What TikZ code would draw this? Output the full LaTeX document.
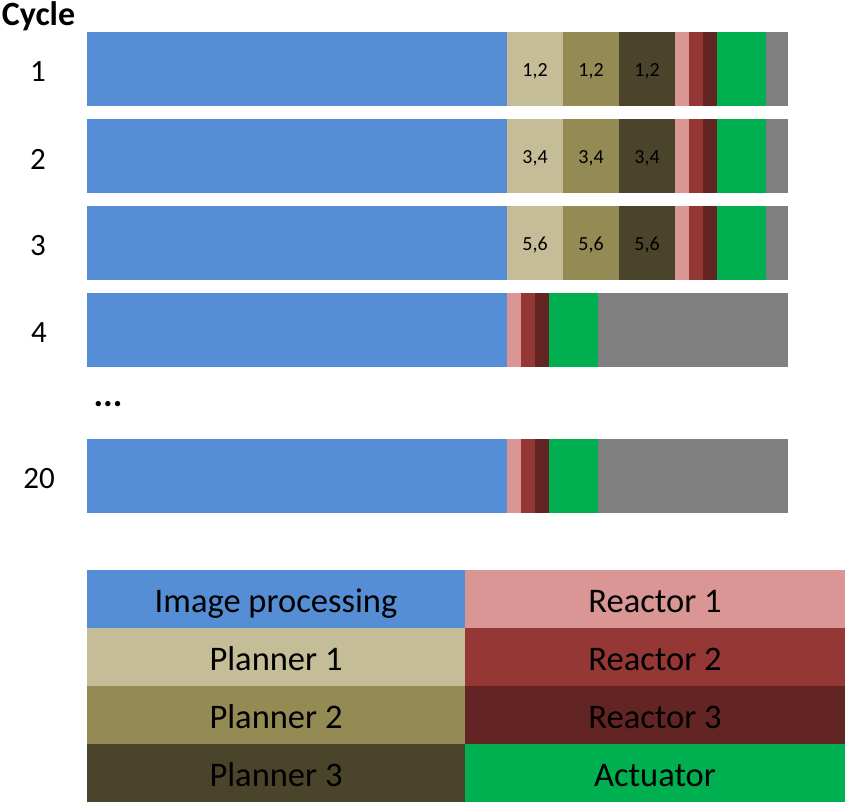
\documentclass[tikz,border=0pt]{standalone}
\usepackage{fontspec}
\setmainfont{Carlito}
\usetikzlibrary{positioning}

\definecolor{imgblue}{RGB}{85,142,213}
\definecolor{planA}{RGB}{196,189,151}
\definecolor{planB}{RGB}{148,138,84}
\definecolor{planC}{RGB}{74,69,42}
\definecolor{reactA}{RGB}{217,150,148}
\definecolor{reactB}{RGB}{149,55,53}
\definecolor{reactC}{RGB}{99,37,35}
\definecolor{actgreen}{RGB}{0,176,80}
\definecolor{idlegray}{RGB}{128,128,128}

\begin{document}
\begin{tikzpicture}[
        x=1pt, y=-1pt,
        node distance=0pt,
        seg/.style={rectangle, anchor=north west, inner sep=0pt, outer sep=0pt,
            minimum height=74pt, text height=14pt, text depth=0pt,
            font=\fontsize{20}{20}\selectfont},
        key/.style={rectangle, anchor=north west, inner sep=0pt, outer sep=0pt,
            minimum height=58pt, text height=26pt, text depth=0pt,
            font=\fontsize{34.5}{34.5}\selectfont},
        cyc/.style={font=\fontsize{31}{31}\selectfont}
    ]
    \useasboundingbox (0,0) rectangle (845,804);

    \node [font=\fontsize{34}{34}\selectfont\bfseries] (cyc) at (38.5,16) {Cycle};

    % cycles with planners
    \foreach \n/\top/\pr in {1/32/{1,2}, 2/119/{3,4}, 3/206/{5,6}} {
        \node [cyc] (lab\n) at (38,\top+40) {\n};
        \node [seg, fill=imgblue, minimum width=420pt] (ip\n) at (87,\top) {};
        \node [seg, fill=planA, minimum width=56pt, right=of ip\n] (pa\n) {\pr};
        \node [seg, fill=planB, minimum width=56pt, right=of pa\n] (pb\n) {\pr};
        \node [seg, fill=planC, minimum width=56pt, right=of pb\n] (pc\n) {\pr};
        \node [seg, fill=reactA, minimum width=14pt, right=of pc\n] (ra\n) {};
        \node [seg, fill=reactB, minimum width=14pt, right=of ra\n] (rb\n) {};
        \node [seg, fill=reactC, minimum width=14pt, right=of rb\n] (rc\n) {};
        \node [seg, fill=actgreen, minimum width=49pt, right=of rc\n] (act\n) {};
        \node [seg, fill=idlegray, minimum width=22pt, right=of act\n] (idle\n) {};
    }

    % cycles without planners
    \foreach \n/\top in {4/293, 20/439} {
        \node [cyc] (lab\n) at (39,\top+40) {\n};
        \node [seg, fill=imgblue, minimum width=420pt] (ip\n) at (87,\top) {};
        \node [seg, fill=reactA, minimum width=14pt, right=of ip\n] (ra\n) {};
        \node [seg, fill=reactB, minimum width=14pt, right=of ra\n] (rb\n) {};
        \node [seg, fill=reactC, minimum width=14pt, right=of rb\n] (rc\n) {};
        \node [seg, fill=actgreen, minimum width=49pt, right=of rc\n] (act\n) {};
        \node [seg, fill=idlegray, minimum width=190pt, right=of act\n] (idle\n) {};
    }

    \node [font=\fontsize{36}{36}\selectfont\bfseries] (dots) at (108,404) {...};

    % legend
    \node [key, fill=imgblue, minimum width=378pt] (kip) at (87,570) {Image processing};
    \node [key, fill=planA, minimum width=378pt, below=of kip.south west, anchor=north west] (kpa) {Planner 1};
    \node [key, fill=planB, minimum width=378pt, below=of kpa.south west, anchor=north west] (kpb) {Planner 2};
    \node [key, fill=planC, minimum width=378pt, below=of kpb.south west, anchor=north west] (kpc) {Planner 3};
    \node [key, fill=reactA, minimum width=380pt] (kra) at (465,570) {Reactor 1};
    \node [key, fill=reactB, minimum width=380pt, below=of kra.south west, anchor=north west] (krb) {Reactor 2};
    \node [key, fill=reactC, minimum width=380pt, below=of krb.south west, anchor=north west] (krc) {Reactor 3};
    \node [key, fill=actgreen, minimum width=380pt, below=of krc.south west, anchor=north west] (kact) {Actuator};
\end{tikzpicture}
\end{document}
